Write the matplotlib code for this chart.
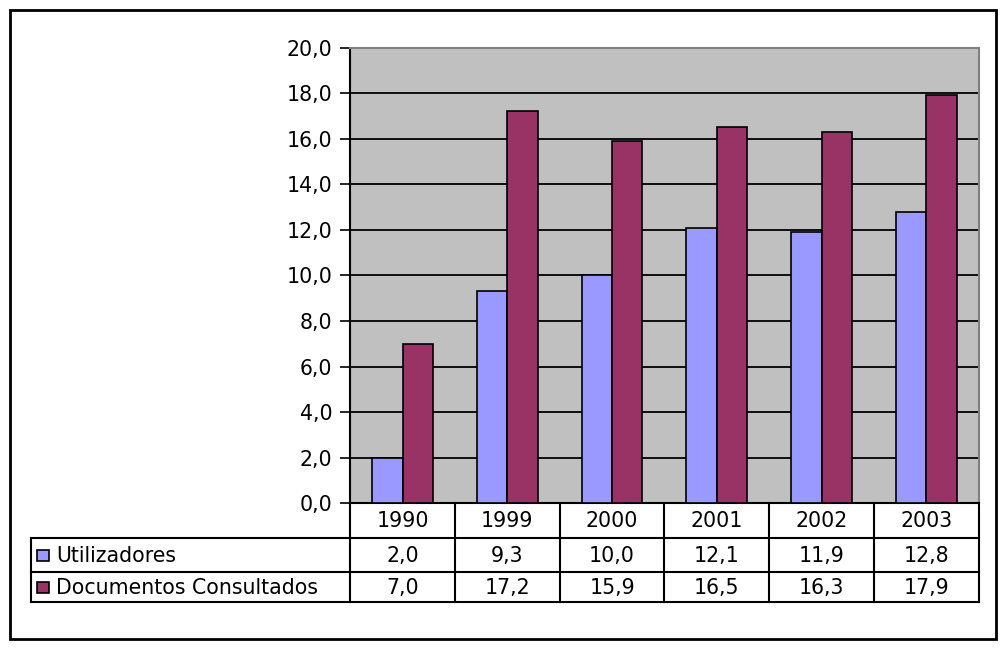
import matplotlib
matplotlib.use('Agg')
import matplotlib.pyplot as plt
from matplotlib.patches import Rectangle
from matplotlib.lines import Line2D

# data
years = ['1990', '1999', '2000', '2001', '2002', '2003']
utilizadores = [2.0, 9.3, 10.0, 12.1, 11.9, 12.8]
documentos = [7.0, 17.2, 15.9, 16.5, 16.3, 17.9]
series_names = ['Utilizadores', 'Documentos Consultados']
yticks = [0, 2, 4, 6, 8, 10, 12, 14, 16, 18, 20]

W, H = 1005, 648
blue = '#9999FF'
maroon = '#993366'
fs = 14.8
plt.rcParams['font.family'] = ['DejaVu Sans']

# layout measured on a 1030x681 copy, scaled to output size
sx, sy = W / 1030, H / 681
def px(v):
    return v * sx
def py(v):
    return v * sy

def fmt(v):
    return ('%.1f' % v).replace('.', ',')

fig = plt.figure(figsize=(W / 100, H / 100), dpi=100)

# outer frame of the chart
fl, ft, fr, fb = px(10), py(11), px(1021), py(672)
fig.patches.append(Rectangle((fl / W, 1 - fb / H), (fr - fl) / W, (fb - ft) / H,
                             transform=fig.transFigure, fill=False,
                             edgecolor='black', linewidth=2))

# plot area
pl, pr, pt, pb = px(359), px(1003), py(50), py(529)
ax = fig.add_axes([pl / W, 1 - pb / H, (pr - pl) / W, (pb - pt) / H])
ax.set_facecolor('#C0C0C0')
x = list(range(len(years)))
bw = 0.29
ax.bar([i - bw / 2 for i in x], utilizadores, width=bw, color=blue,
       edgecolor='black', linewidth=1.2, zorder=3)
ax.bar([i + bw / 2 for i in x], documentos, width=bw, color=maroon,
       edgecolor='black', linewidth=1.2, zorder=3)
ax.set_xlim(-0.5, len(years) - 0.5)
ax.set_ylim(0, 20)
ax.set_yticks(yticks)
ax.set_yticklabels([fmt(v) for v in yticks], fontsize=fs)
ax.yaxis.grid(True, color='black', linewidth=1.3, zorder=1)
ax.set_axisbelow(True)
ax.set_xticks([])
ax.tick_params(axis='y', length=7, width=1.2, pad=6)
for s in ['top', 'right']:
    ax.spines[s].set_color('#808080')
    ax.spines[s].set_linewidth(1.5)
ax.spines['left'].set_linewidth(1.5)
ax.spines['bottom'].set_linewidth(1.5)

# data table below the plot
tl = px(32)
unit = (pr - pl) / len(years)
x0 = -0.5 - (pl - tl) / unit
rows = [py(529), py(565), py(601), py(633)]
tab = fig.add_axes([tl / W, 1 - rows[-1] / H, (pr - tl) / W, (rows[-1] - rows[0]) / H])
tab.set_xlim(x0, len(years) - 0.5)
tab.set_ylim(rows[-1], rows[0])
tab.axis('off')
lw = 1.5
for r in rows[1:]:
    tab.add_line(Line2D([x0, len(years) - 0.5], [r] * 2, color='black', lw=lw, clip_on=False))
for k in range(len(years) + 1):
    tab.add_line(Line2D([k - 0.5] * 2, [rows[0], rows[3]], color='black', lw=lw, clip_on=False))
tab.add_line(Line2D([x0] * 2, [rows[1], rows[3]], color='black', lw=lw, clip_on=False))

for i, yr in enumerate(years):
    tab.text(i, (rows[0] + rows[1]) / 2 + 1, yr, ha='center', va='center', fontsize=fs)
    tab.text(i, (rows[1] + rows[2]) / 2 + 1, fmt(utilizadores[i]), ha='center', va='center', fontsize=fs)
    tab.text(i, (rows[2] + rows[3]) / 2 + 1, fmt(documentos[i]), ha='center', va='center', fontsize=fs)

# legend keys in the first column
for r, (name, col) in enumerate(zip(series_names, [blue, maroon])):
    yc = (rows[r + 1] + rows[r + 2]) / 2
    tab.add_patch(Rectangle((x0 + 6 / unit, yc - 5), 12 / unit, 11, facecolor=col,
                            edgecolor='black', lw=1.2, clip_on=False))
    tab.text(x0 + 25 / unit, yc + 1, name, ha='left', va='center', fontsize=fs)

fig.savefig('out.png', dpi=100)
